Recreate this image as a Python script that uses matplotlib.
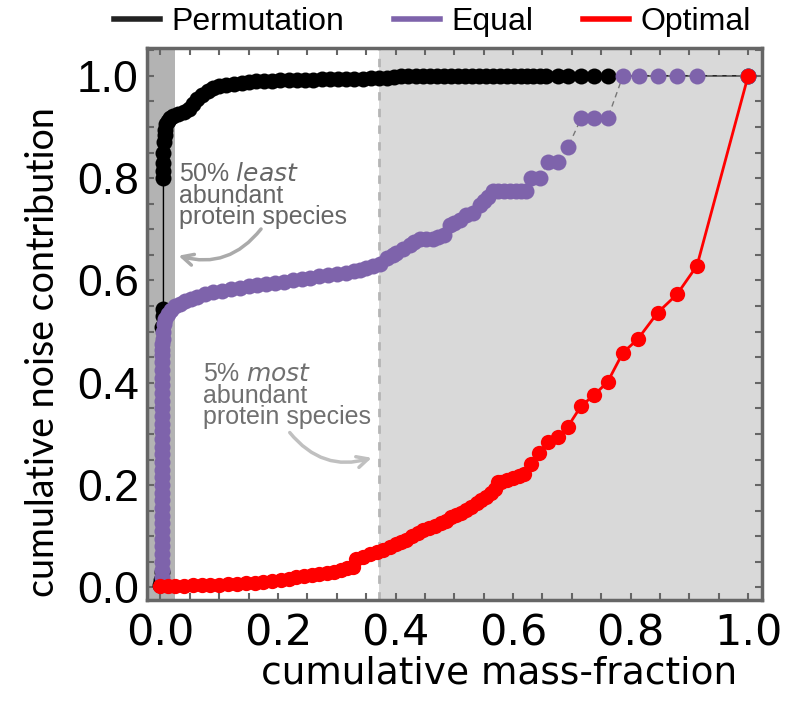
import matplotlib
matplotlib.use('Agg')
import matplotlib.pyplot as plt
from matplotlib.ticker import MultipleLocator

# Permutation (black)
perm_x = [0.000, 0.001, 0.002, 0.003, 0.004, 0.005, 0.005, 0.005, 0.005, 0.005, 0.006, 0.007,
          0.008, 0.010, 0.013, 0.017, 0.022, 0.030, 0.040, 0.048, 0.055, 0.062, 0.070, 0.080,
          0.090, 0.100, 0.112, 0.125, 0.138, 0.150, 0.163, 0.176, 0.190, 0.204, 0.218, 0.232,
          0.246, 0.260, 0.274, 0.288, 0.302, 0.316, 0.330, 0.344, 0.358, 0.372, 0.386, 0.398,
          0.410, 0.422, 0.434, 0.446, 0.458, 0.470, 0.482, 0.494, 0.506, 0.518, 0.530, 0.542,
          0.554, 0.566, 0.578, 0.590, 0.602, 0.613, 0.624, 0.634, 0.645, 0.656, 0.676, 0.693,
          0.716, 0.738, 0.761, 1.000]
perm_y = [0.005, 0.015, 0.030, 0.510, 0.530, 0.545, 0.800, 0.815, 0.830, 0.850, 0.870, 0.885,
          0.895, 0.905, 0.912, 0.918, 0.922, 0.926, 0.930, 0.935, 0.945, 0.955, 0.963, 0.970,
          0.976, 0.980, 0.983, 0.985, 0.987, 0.988, 0.989, 0.990, 0.990, 0.991, 0.991, 0.992,
          0.992, 0.992, 0.993, 0.993, 0.993, 0.994, 0.994, 0.994, 0.995, 0.995, 0.996, 0.997,
          0.999, 1.000, 1.000, 1.000, 1.000, 1.000, 1.000, 1.000, 1.000, 1.000, 1.000, 1.000,
          1.000, 1.000, 1.000, 1.000, 1.000, 1.000, 1.000, 1.000, 1.000, 1.000, 1.000, 1.000,
          1.000, 1.000, 1.000, 1.000]

# Equal (purple)
equal_x = [0.002, 0.002, 0.002, 0.002, 0.002, 0.002, 0.002, 0.002, 0.002, 0.002, 0.002, 0.002,
           0.002, 0.002, 0.002, 0.002, 0.002, 0.002, 0.002, 0.002, 0.002, 0.002, 0.002, 0.003,
           0.003, 0.003, 0.003, 0.003, 0.003, 0.003, 0.003, 0.003, 0.004, 0.004,
           0.006, 0.008, 0.012, 0.018, 0.025, 0.033, 0.042, 0.052, 0.062, 0.075, 0.090, 0.105,
           0.120, 0.135, 0.150, 0.165, 0.180, 0.195, 0.210, 0.226, 0.240, 0.255, 0.270, 0.285,
           0.300, 0.316, 0.330, 0.339, 0.350, 0.362, 0.373, 0.385, 0.395, 0.401, 0.412, 0.424,
           0.432, 0.441, 0.452, 0.463, 0.472, 0.483, 0.492, 0.500, 0.509, 0.520, 0.532, 0.543,
           0.550, 0.557, 0.566, 0.575, 0.585, 0.595, 0.605, 0.614, 0.622, 0.631, 0.645, 0.659,
           0.676, 0.693, 0.716, 0.738, 0.761, 0.787, 0.814, 0.846, 0.879, 0.913, 1.000]
equal_y = [0.020, 0.035, 0.050, 0.065, 0.080, 0.095, 0.110, 0.125, 0.140, 0.155, 0.170, 0.185,
           0.200, 0.215, 0.230, 0.245, 0.260, 0.275, 0.290, 0.305, 0.320, 0.335, 0.350, 0.365,
           0.380, 0.395, 0.410, 0.425, 0.440, 0.455, 0.465, 0.475, 0.485, 0.500,
           0.515, 0.525, 0.535, 0.543, 0.550, 0.555, 0.560, 0.564, 0.568, 0.573, 0.577, 0.580,
           0.583, 0.586, 0.589, 0.591, 0.594, 0.596, 0.598, 0.601, 0.603, 0.605, 0.608, 0.610,
           0.612, 0.614, 0.618, 0.620, 0.625, 0.629, 0.633, 0.643, 0.650, 0.653, 0.662, 0.669,
           0.676, 0.681, 0.682, 0.682, 0.685, 0.689, 0.708, 0.713, 0.718, 0.728, 0.731, 0.748,
           0.756, 0.764, 0.774, 0.774, 0.774, 0.774, 0.774, 0.774, 0.774, 0.800, 0.800, 0.832,
           0.832, 0.860, 0.917, 0.917, 0.917, 1.000, 1.000, 1.000, 1.000, 1.000, 1.000]

# Optimal (red)
opt_x = [0.000, 0.012, 0.025, 0.040, 0.055, 0.070, 0.085, 0.100, 0.115, 0.130, 0.145, 0.160,
         0.175, 0.190, 0.205, 0.218, 0.231, 0.245, 0.258, 0.270, 0.283, 0.296, 0.308, 0.318,
         0.328, 0.333, 0.345, 0.357, 0.368, 0.378, 0.390, 0.400, 0.410, 0.418, 0.428, 0.438,
         0.447, 0.457, 0.467, 0.477, 0.486, 0.494, 0.503, 0.512, 0.520, 0.529, 0.538, 0.546,
         0.554, 0.562, 0.569, 0.574, 0.580, 0.590, 0.600, 0.610, 0.619, 0.631, 0.644, 0.660,
         0.676, 0.693, 0.716, 0.738, 0.761, 0.787, 0.812, 0.846, 0.879, 0.913, 1.000]
opt_y = [0.003, 0.003, 0.003, 0.003, 0.004, 0.004, 0.005, 0.005, 0.006, 0.007, 0.008, 0.009,
         0.011, 0.013, 0.015, 0.017, 0.020, 0.022, 0.024, 0.026, 0.028, 0.031, 0.034, 0.037,
         0.040, 0.056, 0.060, 0.065, 0.070, 0.074, 0.079, 0.084, 0.089, 0.093, 0.100, 0.107,
         0.112, 0.116, 0.121, 0.125, 0.129, 0.137, 0.142, 0.146, 0.151, 0.158, 0.165, 0.171,
         0.177, 0.184, 0.192, 0.206, 0.207, 0.210, 0.213, 0.217, 0.222, 0.242, 0.262, 0.284,
         0.295, 0.314, 0.355, 0.376, 0.402, 0.459, 0.485, 0.537, 0.573, 0.629, 1.000]

least_cut = 0.024   # 50% least abundant species end here
most_cut = 0.371    # 5% most abundant species start here

purple = '#7e63ab'
frame = '#666666'
arial = 'Liberation Sans'

fig = plt.figure(figsize=(7.86, 7.02), dpi=100)
ax = fig.add_axes([0.187, 0.145, 0.782, 0.787])

ax.axvspan(-0.1, least_cut, color='#b3b3b3', lw=0, zorder=0)
ax.axvspan(most_cut, 1.1, color='#d9d9d9', lw=0, zorder=0)
ax.axvline(most_cut, color='#b5b5b5', lw=2, ls=(0, (3, 3)), zorder=0.5)

ax.plot(perm_x, perm_y, color='black', lw=1, marker='o', ms=11.5, mec='none', zorder=2)
ax.plot(equal_x, equal_y, color='#777777', lw=1, ls=(0, (4, 3)), marker='o', ms=11.5,
        mfc=purple, mec='none', zorder=3)
ax.plot(opt_x, opt_y, color='red', lw=2, marker='o', ms=11, mec='none', zorder=4)

ax.set_xlim(-0.023, 1.023)
ax.set_ylim(-0.025, 1.055)

for s in ax.spines.values():
    s.set_color(frame)
    s.set_linewidth(2.5)

ax.xaxis.set_major_locator(MultipleLocator(0.2))
ax.yaxis.set_major_locator(MultipleLocator(0.2))
ax.xaxis.set_minor_locator(MultipleLocator(0.05))
ax.yaxis.set_minor_locator(MultipleLocator(0.05))
ax.tick_params(which='both', direction='in', top=True, right=True, length=5, width=1.5,
               color=frame)
ax.tick_params(axis='x', labelsize=31, pad=9)
ax.tick_params(axis='y', labelsize=32, pad=6)
for t in ax.get_yticklabels():
    t.set_family(arial)

ax.set_xlabel('cumulative mass-fraction', fontsize=27)
ax.xaxis.set_label_coords(0.572, -0.1)
ax.set_ylabel('cumulative noise contribution', fontsize=27, family='Lato')
ax.yaxis.set_label_coords(-0.14, 0.45)

# annotations
ax.text(0.032, 0.832, '50% $\\it{least}$\nabundant\nprotein species', color='#666666',
        fontsize=18, family=arial, va='top', ha='left', linespacing=0.88)
ax.annotate('', xy=(0.026, 0.650), xytext=(0.174, 0.705),
            arrowprops=dict(arrowstyle='->,head_length=0.8,head_width=0.4', color='#aaaaaa',
                            lw=2.5, connectionstyle='arc3,rad=-0.35'))
ax.text(0.072, 0.441, '5% $\\it{most}$\nabundant\nprotein species', color='#707070',
        fontsize=18, family=arial, va='top', ha='left', linespacing=0.88)
ax.annotate('', xy=(0.364, 0.255), xytext=(0.217, 0.307),
            arrowprops=dict(arrowstyle='->,head_length=0.8,head_width=0.4', color='#c0c0c0',
                            lw=2.5, connectionstyle='arc3,rad=0.35'))

# legend
handles = [plt.Line2D([], [], color='#222222', lw=4),
           plt.Line2D([], [], color=purple, lw=4),
           plt.Line2D([], [], color='red', lw=4)]
leg = fig.legend(handles, ['Permutation', 'Equal', 'Optimal'], loc='center',
                 bbox_to_anchor=(0.55, 0.968), ncol=3, frameon=False,
                 prop={'family': arial, 'size': 23}, handlelength=1.45,
                 handletextpad=0.35, columnspacing=1.55)

plt.savefig('out.png', dpi=100)
